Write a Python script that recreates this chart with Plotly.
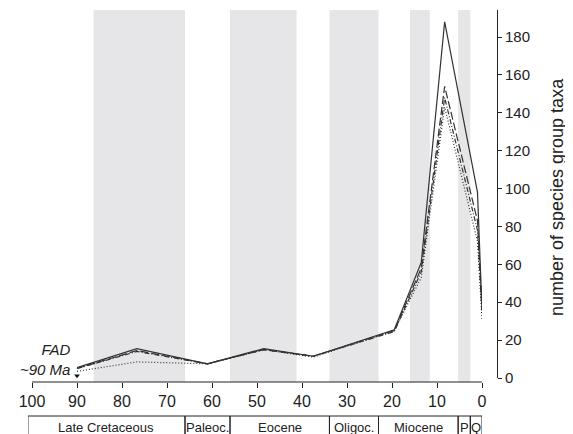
import plotly.graph_objects as go

# ---- data ----
ages = [90, 76.7, 61, 48.5, 37.5, 19.5, 13.5, 8.3, 1, 0]
solid = [5.5, 15.5, 7.5, 15.5, 11.5, 25.5, 61, 188, 98, 36]
longdash = [5, 14.5, 7.5, 15, 11.5, 25, 58, 154, 83, 36]
dashdot = [5, 14, 7.5, 15, 11.5, 24.5, 56, 148, 78, 35]
dotted = [3.5, 8.5, 7.5, 15, 11, 25, 53, 143, 72, 31]

bands = [(86.3, 66.0), (56.0, 41.2), (33.9, 23.0), (16.0, 11.6), (5.3, 2.6)]
periods = ["Late Cretaceous", "Paleoc.", "Eocene", "Oligoc.", "Miocene", "P", "Q"]
period_bounds = [100.9, 66.0, 56.0, 33.9, 23.0, 5.3, 2.6, 0.0]

x_ticks = [100, 90, 80, 70, 60, 50, 40, 30, 20, 10, 0]
y_ticks = [0, 20, 40, 60, 80, 100, 120, 140, 160, 180]
y_title = "number of species group taxa"

W, H = 573, 434
OFF = 8  # page body margin
def px(v):
    return (v - OFF) / W
def py(v):
    return 1 - (v - OFF) / H

LINE = "#333333"
TXT = "#222222"
FONT = "Liberation Sans, Arial, sans-serif"

fig = go.Figure()

styles = [("solid", solid, "solid"), ("long dash", longdash, "8px,3px"),
          ("dash dot", dashdot, "5px,2px,1px,2px"), ("dotted", dotted, "1px,2px")]
for name, ys, dash in styles:
    fig.add_trace(go.Scatter(x=ages, y=ys, mode="lines", name=name,
                             line=dict(color=LINE, width=1.2, dash=dash),
                             showlegend=False, cliponaxis=False))

# FAD marker
fig.add_trace(go.Scatter(x=[90], y=[1.2], mode="markers", showlegend=False,
                         marker=dict(symbol="triangle-down", size=5, color="#111"),
                         cliponaxis=False))

shapes = []
for a, b in bands:
    shapes.append(dict(type="rect", xref="x", yref="paper", x0=a, x1=b,
                       y0=py(382), y1=py(10), fillcolor="#e6e6e8",
                       line=dict(width=0), layer="below"))
# x axis baseline (100 → 0)
shapes.append(dict(type="line", xref="x", yref="paper", x0=x_ticks[0], x1=x_ticks[-1],
                   y0=py(382), y1=py(382), line=dict(color="#222", width=1)))
# geological period boxes
for i, name in enumerate(periods):
    a, b = period_bounds[i], period_bounds[i + 1]
    shapes.append(dict(type="rect", xref="x", yref="paper", x0=a, x1=b,
                       y0=-0.2, y1=py(416), line=dict(color="#222", width=1),
                       fillcolor="rgba(0,0,0,0)"))

annotations = []
for i, name in enumerate(periods):
    a, b = period_bounds[i], period_bounds[i + 1]
    annotations.append(dict(x=(a + b) / 2, y=py(427), xref="x", yref="paper",
                            xanchor="center", yanchor="middle",
                            text=name, showarrow=False,
                            font=dict(family=FONT, size=13, color=TXT)))
annotations.append(dict(x=90, y=10, xref="x", yref="y", xanchor="right",
                        yanchor="middle", xshift=-4, align="right",
                        text="<i>FAD</i><br><i>~90 Ma</i>", showarrow=False,
                        font=dict(family=FONT, size=15, color=TXT)))
annotations.append(dict(x=px(557), y=py(197), xref="paper", yref="paper",
                        xanchor="center", yanchor="middle", textangle=-90,
                        text=y_title, showarrow=False,
                        font=dict(family=FONT, size=18, color=TXT)))

fig.update_layout(
    width=W, height=H,
    margin=dict(l=0, r=0, t=0, b=0, autoexpand=False),
    paper_bgcolor="white", plot_bgcolor="rgba(0,0,0,0)",
    shapes=shapes, annotations=annotations,
    xaxis=dict(domain=[px(32 - 0.9 * 4.5), px(482)], range=[100.9, 0], anchor="free",
               position=py(382), showline=False,
               ticks="outside", ticklen=5, tickcolor="#222", automargin=False,
               tickvals=x_ticks, ticktext=[str(t) for t in x_ticks],
               showgrid=False, zeroline=False,
               tickfont=dict(family=FONT, size=16, color=TXT)),
    yaxis=dict(domain=[py(378), py(10)], range=[0, 194.3], anchor="free",
               position=px(497), side="right", showline=True, linecolor="#222",
               linewidth=1, ticks="outside", ticklen=4, tickcolor="#222",
               automargin=False,
               tickvals=y_ticks, showgrid=False, zeroline=False,
               tickfont=dict(family=FONT, size=15, color=TXT)),
)

fig.write_html("out.html")
